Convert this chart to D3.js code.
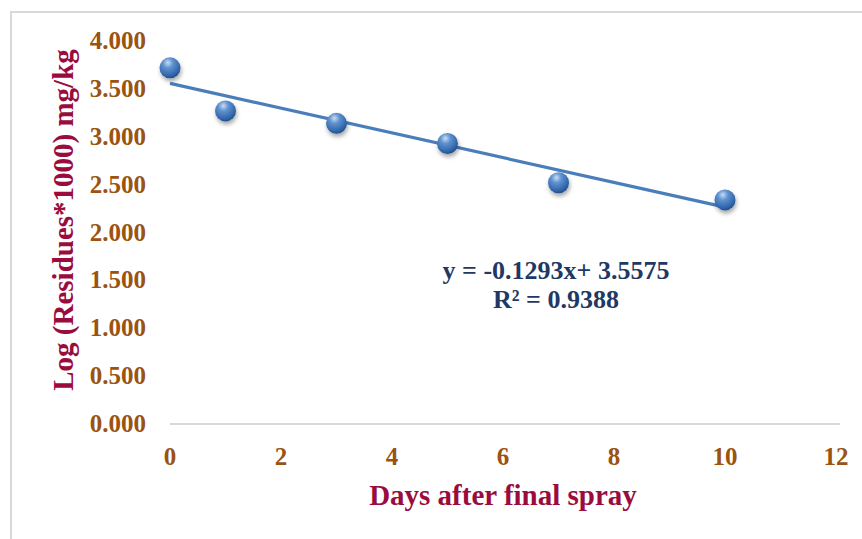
<!DOCTYPE html>
<html>
<head>
<meta charset="utf-8">
<script src="https://cdn.jsdelivr.net/npm/d3@7"></script>
<style>
    body { margin: 0; background: #fff; }
    svg text { font-family: 'Liberation Serif', 'Times New Roman', serif; font-weight: bold; }
</style>
</head>
<body>
<div id="chart"></div>
<script>
// data
const days = [0, 1, 3, 5, 7, 10];
const logResidues = [3.72, 3.27, 3.14, 2.93, 2.52, 2.34];
const xTicks = [0, 2, 4, 6, 8, 10, 12];
const yTicks = [0, 0.5, 1, 1.5, 2, 2.5, 3, 3.5, 4];
const slope = -0.1293;
const intercept = 3.5575;
const eqLabels = ['y = -0.1293x+ 3.5575', 'R\u00b2 = 0.9388'];

const W = 862, H = 539;
const tickColor = '#9a5311';
const titleColor = '#9b0c3e';
const blue = '#4a7ebb';

const svg = d3.select('#chart').append('svg')
    .attr('width', W)
    .attr('height', H);

// sphere look for markers
const defs = svg.append('defs');
const grad = defs.append('radialGradient')
    .attr('id', 'ball')
    .attr('cx', '40%').attr('cy', '30%').attr('r', '70%')
    .attr('fx', '40%').attr('fy', '25%');
grad.append('stop').attr('offset', '0%').attr('stop-color', '#c9dcf3');
grad.append('stop').attr('offset', '35%').attr('stop-color', '#5f92d0');
grad.append('stop').attr('offset', '85%').attr('stop-color', '#2f64a8');
grad.append('stop').attr('offset', '100%').attr('stop-color', '#23508a');

const shadow = defs.append('filter').attr('id', 'shadow')
    .attr('x', '-50%').attr('y', '-50%').attr('width', '200%').attr('height', '200%');
shadow.append('feDropShadow')
    .attr('dx', 1).attr('dy', 3).attr('stdDeviation', 2)
    .attr('flood-color', '#000').attr('flood-opacity', 0.35);

// outer frame
svg.append('rect')
    .attr('x', 11).attr('y', 12)
    .attr('width', 900).attr('height', 600)
    .attr('fill', 'none')
    .attr('stroke', '#d9d9d9')
    .attr('stroke-width', 2);

// scales
const x = d3.scaleLinear().domain([0, 12]).range([170, 836]);
const y = d3.scaleLinear().domain([0, 4]).range([424, 41]);

// x axis line
svg.append('line')
    .attr('x1', x(0)).attr('x2', 840)
    .attr('y1', y(0)).attr('y2', y(0))
    .attr('stroke', '#d9d9d9')
    .attr('stroke-width', 2);

// tick labels
svg.append('g').selectAll('text')
    .data(xTicks)
    .join('text')
    .attr('x', (d) => x(d))
    .attr('y', 465)
    .attr('text-anchor', 'middle')
    .attr('fill', tickColor)
    .style('font-size', '25px')
    .text((d) => d);

svg.append('g').selectAll('text')
    .data(yTicks)
    .join('text')
    .attr('x', 146)
    .attr('y', (d) => y(d) + 8)
    .attr('text-anchor', 'end')
    .attr('fill', tickColor)
    .style('font-size', '25px')
    .text((d) => d3.format('.3f')(d));

// axis titles
svg.append('text')
    .attr('x', 503)
    .attr('y', 505)
    .attr('text-anchor', 'middle')
    .attr('fill', titleColor)
    .style('font-size', '29px')
    .text('Days after final spray');

svg.append('text')
    .attr('transform', 'translate(73,220) rotate(-90)')
    .attr('text-anchor', 'middle')
    .attr('fill', titleColor)
    .style('font-size', '29px')
    .text('Log (Residues*1000) mg/kg');

// linear trend line
const trendX = [d3.min(days), d3.max(days)];
svg.append('line')
    .attr('x1', x(trendX[0])).attr('y1', y(slope * trendX[0] + intercept))
    .attr('x2', x(trendX[1])).attr('y2', y(slope * trendX[1] + intercept))
    .attr('stroke', blue)
    .attr('stroke-width', 3.2);

// points
svg.append('g').selectAll('circle')
    .data(days.map((d, i) => ({ day: d, value: logResidues[i] })))
    .join('circle')
    .attr('cx', (d) => x(d.day))
    .attr('cy', (d) => y(d.value))
    .attr('r', 10.5)
    .attr('fill', 'url(#ball)')
    .attr('filter', 'url(#shadow)');

// equation
svg.append('g').selectAll('text')
    .data(eqLabels)
    .join('text')
    .attr('x', 556)
    .attr('y', (d, i) => 279 + i * 29)
    .attr('text-anchor', 'middle')
    .attr('fill', '#1f3864')
    .style('font-size', '26px')
    .text((d) => d);
</script>
</body>
</html>
